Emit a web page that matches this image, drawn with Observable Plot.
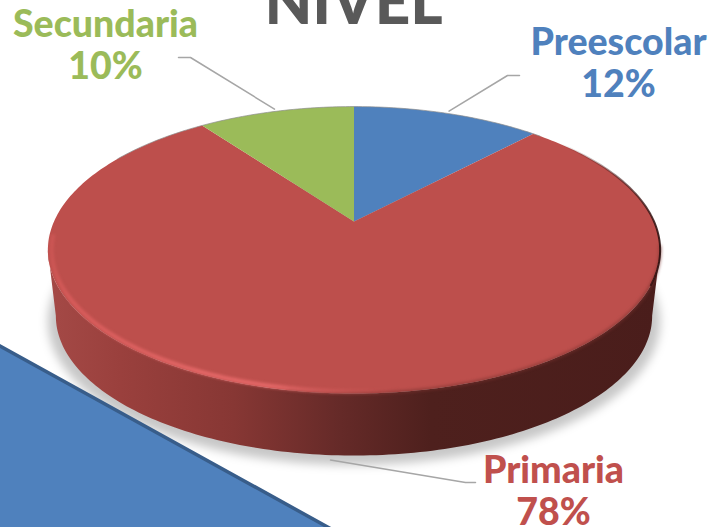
<!DOCTYPE html>
<html>
<head>
<meta charset="utf-8">
<script src="https://cdn.jsdelivr.net/npm/d3@7"></script>
<script src="https://cdn.jsdelivr.net/npm/@observablehq/plot@0.6"></script>
<style>html,body{margin:0;padding:0;background:#fff;overflow:hidden}</style>
</head>
<body>
<script>
// Data
const names = ["Preescolar", "Primaria", "Secundaria"];
const shares = [12, 78, 10];
const colors = ["#4f81bd", "#bd4f4c", "#9bbb59"];
const textColors = ["#4f81bd", "#c0504d", "#9bbb59"];
const titleText = "NIVEL";

// Label placement (anchor points, in the picture's pixels)
const labelX = [618, 553, 105];
const labelY = [24.5, 452.5, 7];
const elbowX = [507, 465, 190];
const elbowY = [75, 482, 57];
const stubX = [519, 475, 178];
const rimLift = [1.02, 1.0, 1.02];
const rimDrop = [0, 67, 0];

// Decorative corner shape, running past the picture's edges
const cornerX = [-5, 337, -5];
const cornerY = [343, 532, 532];

// Perspective disc: unit circle -> screen
const W = 709, H = 527;
const cx = 353.5, cy = 221, a = 300, b = 137.8, k = 0.199;
const depth = 66.5, baseScale = 0.974;
const rim = (deg, s = 1, dz = 0) => {
  const t = deg * Math.PI / 180, u = Math.sin(t), v = Math.cos(t), d = 1 + k * v;
  return {x: cx + s * a * u / d, y: cy + dz - s * b * v / d};
};
const arc = (from, to, s, dz) => {
  const n = Math.ceil(Math.abs(to - from)), out = [];
  for (let i = 0; i <= n; ++i) out.push(rim(from + (to - from) * i / n, s, dz));
  return out;
};

// Slices, from the shares, clockwise from the top
let acc = 0;
const bounds = shares.map(v => { const s = acc; acc += v; return [s * 3.6, acc * 3.6]; });
const slices = names.flatMap((name, i) =>
  [{x: cx, y: cy}, ...arc(bounds[i][0], bounds[i][1], 1, 0)].map(p => ({...p, name})));

const silL = 258.5, silR = 101.5;
const sidePts = [...arc(silR, silL, 1, 0), ...arc(silL, silR, baseScale, depth)];
const shadowPts = arc(0, 360, 1.0, depth + 5);

const leaders = names.flatMap((name, i) => {
  const mid = (bounds[i][0] + bounds[i][1]) / 2;
  const start = rim(mid, rimLift[i], rimDrop[i]);
  return [start, {x: elbowX[i], y: elbowY[i]}, {x: stubX[i], y: elbowY[i]}].map(p => ({...p, name}));
});

const labels = names.map((name, i) => ({
  text: `${name}\n${shares[i]}%`, x: labelX[i], y: labelY[i], color: textColors[i]
}));
const corner = cornerX.map((x, i) => ({x, y: cornerY[i]}));

const gradient = (id, stops) => {
  const g = d3.create("svg:linearGradient").attr("id", id)
    .attr("gradientUnits", "userSpaceOnUse")
    .attr("x1", 0).attr("x2", W).attr("y1", 0).attr("y2", 0);
  stops.forEach(([x, c, o]) => g.append("stop")
    .attr("offset", x / W).attr("stop-color", c).attr("stop-opacity", o ?? 1));
  return g.node();
};
const defs = () => {
  const d = d3.create("svg:defs");
  d.node().append(gradient("sideFill", [
    [50, "#a44946"], [120, "#9a403d"], [233, "#873734"], [340, "#652a28"], [430, "#4e201d"], [660, "#4a1d1b"]
  ]));
  d.node().append(gradient("bevelLight", [
    [48, "#d85c5b", 0.5], [70, "#d85c5b"], [200, "#e56868"], [270, "#e56868"], [400, "#d85c5b", 0]
  ]));
  d.node().append(gradient("bevelDark", [
    [560, "#3a1514", 0], [640, "#3a1514", 0.75], [660, "#2a0f0e", 0.9]
  ]));
  return d.node();
};

const chart = Plot.plot({
  width: W, height: H, margin: 0,
  x: {domain: [0, W], range: [0, W], axis: null},
  y: {domain: [0, H], range: [0, H], axis: null},
  color: {domain: names, range: colors},
  style: {background: "#fff", overflow: "hidden"},
  marks: [
    defs,
    Plot.line(shadowPts, {x: "x", y: "y", fill: "#000", fillOpacity: 0.22, stroke: "none", imageFilter: "blur(5px)"}),
    Plot.line(sidePts, {x: "x", y: "y", fill: "url(#sideFill)", stroke: "none"}),
    Plot.line(slices, {x: "x", y: "y", z: "name", fill: "name", stroke: "none"}),
    Plot.line(arc(100, 190, 1, 0), {x: "x", y: "y", stroke: "#7a322f", strokeOpacity: 0.6, strokeWidth: 3, imageFilter: "blur(1.5px)"}),
    Plot.line(arc(165, 264, 0.988, 0), {x: "x", y: "y", stroke: "url(#bevelLight)", strokeWidth: 4, imageFilter: "blur(1.8px)"}),
    Plot.line(arc(40, 115, 1, 0), {x: "x", y: "y", stroke: "url(#bevelDark)", strokeWidth: 2, imageFilter: "blur(0.6px)"}),
    Plot.line(arc(-60, 45, 1, 0), {x: "x", y: "y", stroke: "#8c8c8c", strokeWidth: 0.7}),
    Plot.line(leaders, {x: "x", y: "y", z: "name", stroke: "#a6a6a6", strokeWidth: 1.5}),
    Plot.line(corner, {x: "x", y: "y", fill: "#4f81bd", stroke: "#385d8a", strokeWidth: 3.5, curve: "linear-closed"}),
    Plot.text([{text: titleText, x: 353, y: 23}], {
      x: "x", y: "y", text: "text", fill: "#595959", fontSize: 62, fontWeight: 900,
      fontFamily: "Lato", textAnchor: "middle", lineAnchor: "bottom"
    }),
    Plot.text(labels, {
      x: "x", y: "y", text: "text", fill: d => d.color, fontSize: 37.5, fontWeight: 900,
      fontFamily: "Lato", textAnchor: "middle", lineAnchor: "top", lineHeight: 1.12
    })
  ]
});
document.body.append(chart);
</script>
</body>
</html>
